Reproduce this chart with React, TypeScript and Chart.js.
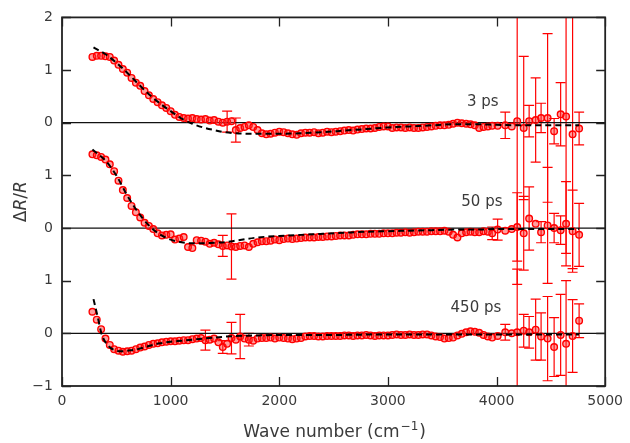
import React, { useEffect, useRef } from "react";
import { Chart, registerables } from "chart.js";

Chart.register(...registerables);

// ---- data (ΔR/R) ----
const waveNumbers = [
  280, 320, 360, 400, 440, 480, 520, 560, 600, 640,
  680, 720, 760, 800, 840, 880, 920, 960, 1000, 1040,
  1080, 1120, 1160, 1200, 1240, 1280, 1320, 1360, 1400, 1440,
  1480, 1520, 1560, 1600, 1640, 1680, 1720, 1760, 1800, 1840,
  1880, 1920, 1960, 2000, 2040, 2080, 2120, 2160, 2200, 2240,
  2280, 2320, 2360, 2400, 2440, 2480, 2520, 2560, 2600, 2640,
  2680, 2720, 2760, 2800, 2840, 2880, 2920, 2960, 3000, 3040,
  3080, 3120, 3160, 3200, 3240, 3280, 3320, 3360, 3400, 3440,
  3480, 3520, 3560, 3600, 3640, 3680, 3720, 3760, 3800, 3840,
  3880, 3920, 3960,
  4010, 4080, 4140, 4190, 4250, 4300, 4360, 4410, 4470, 4530, 4590, 4640, 4700, 4760,
];

const dR3ps = [
  1.25, 1.27, 1.27, 1.26, 1.25, 1.18, 1.10, 1.02, 0.95, 0.85,
  0.76, 0.70, 0.60, 0.52, 0.45, 0.39, 0.33, 0.28, 0.22, 0.15,
  0.11, 0.09, 0.08, 0.09, 0.07, 0.06, 0.07, 0.04, 0.05, 0.02,
  0.00, 0.02, 0.03, -0.14, -0.10, -0.08, -0.05, -0.08, -0.14, -0.20,
  -0.22, -0.21, -0.19, -0.17, -0.18, -0.20, -0.22, -0.23, -0.20, -0.19,
  -0.19, -0.18, -0.20, -0.19, -0.17, -0.18, -0.17, -0.16, -0.15, -0.14,
  -0.15, -0.13, -0.12, -0.11, -0.11, -0.10, -0.08, -0.07, -0.07, -0.10,
  -0.09, -0.09, -0.10, -0.09, -0.10, -0.10, -0.09, -0.08, -0.07, -0.06,
  -0.05, -0.05, -0.04, -0.02, 0.00, -0.01, -0.02, -0.03, -0.05, -0.10,
  -0.08, -0.07, -0.06,
  -0.06, -0.05, -0.07, 0.03, -0.10, 0.03, 0.05, 0.09, 0.09, -0.16, 0.16, 0.12, -0.22, -0.11,
];
const errX3ps = [1520, 1600, 4080, 4190, 4250, 4300, 4360, 4410, 4470, 4530, 4590, 4640, 4700, 4760];
const errV3ps = [0.2, 0.23, 0.25, 3.1, 1.36, 0.3, 0.8, 0.28, 1.6, 0.24, 0.6, 2.6, 2.55, 0.31];

const dR50ps = [
  1.40, 1.38, 1.35, 1.30, 1.21, 1.08, 0.90, 0.72, 0.57, 0.42,
  0.30, 0.20, 0.10, 0.04, -0.02, -0.10, -0.14, -0.13, -0.12, -0.22,
  -0.20, -0.17, -0.36, -0.38, -0.23, -0.24, -0.26, -0.30, -0.28, -0.31,
  -0.34, -0.33, -0.35, -0.36, -0.34, -0.33, -0.36, -0.30, -0.27, -0.25,
  -0.25, -0.24, -0.22, -0.23, -0.21, -0.20, -0.21, -0.20, -0.19, -0.18,
  -0.18, -0.18, -0.17, -0.17, -0.16, -0.16, -0.15, -0.14, -0.14, -0.14,
  -0.13, -0.12, -0.12, -0.12, -0.11, -0.11, -0.11, -0.10, -0.10, -0.10,
  -0.09, -0.09, -0.08, -0.09, -0.08, -0.07, -0.07, -0.07, -0.06, -0.06,
  -0.06, -0.05, -0.07, -0.13, -0.18, -0.10, -0.08, -0.07, -0.08, -0.08,
  -0.06, -0.07, -0.10,
  -0.03, -0.05, -0.02, 0.02, -0.10, 0.18, 0.08, -0.08, 0.05, 0.00, -0.04, 0.08, -0.06, -0.13,
];
const errX50ps = [1480, 1560, 3960, 4010, 4190, 4250, 4300, 4410, 4470, 4530, 4590, 4640, 4700, 4760];
const errV50ps = [0.2, 0.62, 0.12, 0.2, 0.65, 0.7, 0.6, 0.2, 1.1, 0.28, 0.27, 0.8, 0.78, 0.6];

const dR450ps = [
  0.41, 0.26, 0.08, -0.10, -0.22, -0.30, -0.33, -0.35, -0.34, -0.33,
  -0.30, -0.27, -0.25, -0.22, -0.20, -0.19, -0.17, -0.16, -0.15, -0.15,
  -0.14, -0.13, -0.13, -0.11, -0.10, -0.09, -0.13, -0.12, -0.10, -0.17,
  -0.26, -0.20, -0.09, -0.12, -0.06, -0.10, -0.12, -0.14, -0.10, -0.09,
  -0.09, -0.08, -0.10, -0.08, -0.09, -0.10, -0.11, -0.10, -0.09, -0.06,
  -0.05, -0.05, -0.06, -0.06, -0.05, -0.05, -0.05, -0.05, -0.04, -0.04,
  -0.05, -0.04, -0.04, -0.03, -0.04, -0.05, -0.04, -0.04, -0.04, -0.03,
  -0.02, -0.03, -0.03, -0.02, -0.03, -0.03, -0.02, -0.02, -0.04, -0.06,
  -0.07, -0.10, -0.09, -0.08, -0.04, -0.01, 0.02, 0.04, 0.03, 0.01,
  -0.03, -0.06, -0.08,
  -0.05, 0.02, 0.00, 0.02, 0.05, 0.02, 0.07, -0.06, -0.10, -0.26, -0.03, -0.20, -0.05, 0.24,
];
const errX450ps = [1320, 1480, 1560, 1640, 1720, 4080, 4190, 4250, 4300, 4360, 4410, 4470, 4530, 4590, 4640, 4700, 4760];
const errV450ps = [0.19, 0.12, 0.3, 0.42, 0.12, 0.15, 1.2, 0.31, 0.3, 0.58, 0.45, 0.8, 0.56, 0.77, 1.2, 0.69, 0.32];

// fitted curves (dashed)
const fitX3ps = [290, 400, 500, 600, 700, 800, 900, 1000, 1100, 1200, 1300, 1400, 1500, 1600, 1800, 2000, 2200, 2400, 2600, 2800, 3000, 3200, 3400, 3600, 3800, 4000, 4200, 4400, 4600, 4760];
const fit3ps = [1.43, 1.30, 1.14, 0.95, 0.74, 0.54, 0.37, 0.22, 0.08, -0.02, -0.09, -0.14, -0.18, -0.20, -0.21, -0.21, -0.20, -0.18, -0.15, -0.12, -0.09, -0.07, -0.05, -0.03, -0.03, -0.04, -0.05, -0.05, -0.05, -0.05];
const fitX50ps = [280, 400, 500, 600, 700, 800, 900, 1000, 1100, 1200, 1300, 1400, 1500, 1600, 1800, 2000, 2200, 2400, 2600, 2800, 3000, 3200, 3400, 3600, 3800, 4000, 4200, 4400, 4600, 4760];
const fit50ps = [1.49, 1.28, 1.00, 0.62, 0.30, 0.05, -0.12, -0.22, -0.27, -0.29, -0.29, -0.28, -0.27, -0.24, -0.18, -0.15, -0.13, -0.11, -0.09, -0.07, -0.06, -0.05, -0.04, -0.03, -0.03, -0.02, -0.02, -0.02, -0.02, -0.02];
const fitX450ps = [290, 330, 363, 400, 450, 500, 550, 600, 700, 800, 900, 1000, 1100, 1200, 1400, 1600, 1800, 2000, 2500, 3000, 3500, 4000, 4500, 4760];
const fit450ps = [0.65, 0.30, 0.00, -0.17, -0.28, -0.33, -0.34, -0.33, -0.30, -0.24, -0.19, -0.16, -0.14, -0.12, -0.08, -0.05, -0.04, -0.03, -0.03, -0.02, -0.02, -0.02, -0.02, -0.02];

// stacking offsets of the three delays and their labels
const delayLabels = ["3 ps", "50 ps", "450 ps"];
const delayOffsets = [4, 2, 0];
const labelAnchorsX = [3874, 3865, 3810];
const labelAnchorsY = [4.4, 2.5, 0.48];

// axis ticks / titles
const yTickLabels = ["\u22121", "0", "1", "0", "1", "0", "1", "2"]; // for -1 .. 6
const xAxisTitle = "Wave number (cm";
const xAxisTitleSup = "\u22121";

const FONT = '"DejaVu Sans", sans-serif';
const TEXT = "#3a3a3a";
const RED = "#ff0000";

const toPoints = (xs: number[], ys: number[], off: number) => xs.map((x, i) => ({ x, y: ys[i] + off }));
const errorsFor = (xs: number[], ex: number[], ev: number[]) =>
  xs.map((x) => {
    const k = ex.indexOf(x);
    return k >= 0 ? ev[k] : 0;
  });

export default function App() {
  const ref = useRef<HTMLCanvasElement>(null);

  useEffect(() => {
    const canvas = ref.current;
    if (!canvas) return;

    const errorBars = {
      id: "errorBars",
      beforeDatasetsDraw(chart: any) {
        const { ctx, chartArea, scales } = chart;
        const x = scales.x, y = scales.y;
        ctx.save();
        ctx.beginPath();
        ctx.rect(chartArea.left, chartArea.top, chartArea.right - chartArea.left, chartArea.bottom - chartArea.top);
        ctx.clip();
        ctx.strokeStyle = RED;
        ctx.lineWidth = 1.2;
        chart.data.datasets.forEach((ds: any) => {
          if (!ds.errors) return;
          ds.data.forEach((p: any, i: number) => {
            const e = ds.errors[i];
            if (!e) return;
            const px = x.getPixelForValue(p.x);
            const t = y.getPixelForValue(p.y + e);
            const b = y.getPixelForValue(p.y - e);
            ctx.beginPath();
            ctx.moveTo(px, t);
            ctx.lineTo(px, b);
            ctx.moveTo(px - 5, t);
            ctx.lineTo(px + 5, t);
            ctx.moveTo(px - 5, b);
            ctx.lineTo(px + 5, b);
            ctx.stroke();
          });
        });
        ctx.restore();
      },
    };

    const frame = {
      id: "frame",
      afterDraw(chart: any) {
        const { ctx, chartArea, scales } = chart;
        const { left, right, top, bottom } = chartArea;
        const x = scales.x, y = scales.y;
        ctx.save();
        ctx.strokeStyle = "#222";
        ctx.lineWidth = 1.3;
        ctx.beginPath();
        x.ticks.forEach((t: any) => {
          const px = Math.round(x.getPixelForValue(t.value)) + 0.5;
          ctx.moveTo(px, bottom);
          ctx.lineTo(px, bottom - 9);
          ctx.moveTo(px, top);
          ctx.lineTo(px, top + 9);
        });
        y.ticks.forEach((t: any) => {
          const py = Math.round(y.getPixelForValue(t.value)) + 0.5;
          ctx.moveTo(left, py);
          ctx.lineTo(left + 9, py);
          ctx.moveTo(right, py);
          ctx.lineTo(right - 9, py);
        });
        ctx.stroke();
        ctx.lineWidth = 1.8;
        ctx.strokeRect(left, top, right - left, bottom - top);

        // delay labels
        ctx.fillStyle = TEXT;
        ctx.font = `15px ${FONT}`;
        ctx.textAlign = "center";
        ctx.textBaseline = "middle";
        delayLabels.forEach((lab, i) => {
          ctx.fillText(lab, x.getPixelForValue(labelAnchorsX[i]), y.getPixelForValue(labelAnchorsY[i]));
        });

        // x title with superscript
        ctx.textBaseline = "alphabetic";
        ctx.textAlign = "left";
        const mainFont = `17px ${FONT}`;
        const supFont = `12px ${FONT}`;
        ctx.font = mainFont;
        const w1 = ctx.measureText(xAxisTitle).width;
        const w3 = ctx.measureText(")").width;
        ctx.font = supFont;
        const w2 = ctx.measureText(xAxisTitleSup).width;
        let sx = (left + right) / 2 - (w1 + w2 + w3) / 2;
        const by = 437;
        ctx.font = mainFont;
        ctx.fillText(xAxisTitle, sx, by);
        sx += w1;
        ctx.font = supFont;
        ctx.fillText(xAxisTitleSup, sx + 1, by - 7);
        sx += w2 + 2;
        ctx.font = mainFont;
        ctx.fillText(")", sx, by);

        // y title: ΔR/R with italic R
        const parts = [
          { t: "\u0394", f: `17px ${FONT}` },
          { t: "R", f: `italic 17px ${FONT}` },
          { t: "/", f: `17px ${FONT}` },
          { t: "R", f: `italic 17px ${FONT}` },
        ];
        let total = 0;
        const widths = parts.map((p) => {
          ctx.font = p.f;
          const w = ctx.measureText(p.t).width;
          total += w;
          return w;
        });
        ctx.translate(26, (top + bottom) / 2);
        ctx.rotate(-Math.PI / 2);
        let cx = -total / 2;
        parts.forEach((p, i) => {
          ctx.font = p.f;
          ctx.fillText(p.t, cx, 0);
          cx += widths[i];
        });
        ctx.restore();
      },
    };

    const fits = [
      toPoints(fitX3ps, fit3ps, delayOffsets[0]),
      toPoints(fitX50ps, fit50ps, delayOffsets[1]),
      toPoints(fitX450ps, fit450ps, delayOffsets[2]),
    ];
    const series = [
      { d: dR3ps, e: errorsFor(waveNumbers, errX3ps, errV3ps) },
      { d: dR50ps, e: errorsFor(waveNumbers, errX50ps, errV50ps) },
      { d: dR450ps, e: errorsFor(waveNumbers, errX450ps, errV450ps) },
    ];

    const datasets: any[] = [];
    delayOffsets.forEach((off) => {
      datasets.push({
        data: [{ x: 0, y: off }, { x: 5000, y: off }],
        showLine: true,
        borderColor: "#111",
        borderWidth: 1.2,
        pointRadius: 0,
        order: 3,
      });
    });
    series.forEach((s, i) => {
      datasets.push({
        data: toPoints(waveNumbers, s.d, delayOffsets[i]),
        errors: s.e,
        showLine: false,
        pointRadius: 3.3,
        pointBorderWidth: 1.4,
        borderColor: RED,
        backgroundColor: "rgba(255,40,40,0.45)",
        order: 2,
      });
    });
    fits.forEach((f) => {
      datasets.push({
        data: f,
        showLine: true,
        borderColor: "#000",
        borderWidth: 2,
        borderDash: [6, 4],
        pointRadius: 0,
        cubicInterpolationMode: "monotone",
        order: 1,
      });
    });

    const chart = new Chart(canvas, {
      type: "scatter",
      data: { datasets },
      options: {
        responsive: false,
        animation: false,
        devicePixelRatio: 1,
        layout: { padding: { top: 13, right: 22, left: 0, bottom: 0 } },
        plugins: { legend: { display: false }, tooltip: { enabled: false } },
        scales: {
          x: {
            type: "linear",
            min: 0,
            max: 5000,
            grid: { display: false, drawTicks: false },
            border: { display: false },
            ticks: {
              stepSize: 1000,
              padding: 7,
              color: TEXT,
              font: { family: FONT, size: 14 },
              maxRotation: 0,
              callback: (v: any) => String(v),
            },
            afterFit: (s: any) => {
              s.height = 57;
            },
          },
          y: {
            type: "linear",
            min: -1,
            max: 6,
            grid: { display: false, drawTicks: false },
            border: { display: false },
            ticks: {
              stepSize: 1,
              padding: 9,
              color: TEXT,
              font: { family: FONT, size: 14 },
              callback: (v: any) => yTickLabels[Math.round(Number(v)) + 1],
            },
            afterFit: (s: any) => {
              s.width = 62;
            },
          },
        },
      } as any,
      plugins: [errorBars, frame],
    });
    return () => chart.destroy();
  }, []);

  return (
    <div style={{ position: "fixed", left: 0, top: 0, width: 630, height: 443, background: "#fff" }}>
      <canvas ref={ref} width={630} height={443} style={{ display: "block" }} />
    </div>
  );
}
